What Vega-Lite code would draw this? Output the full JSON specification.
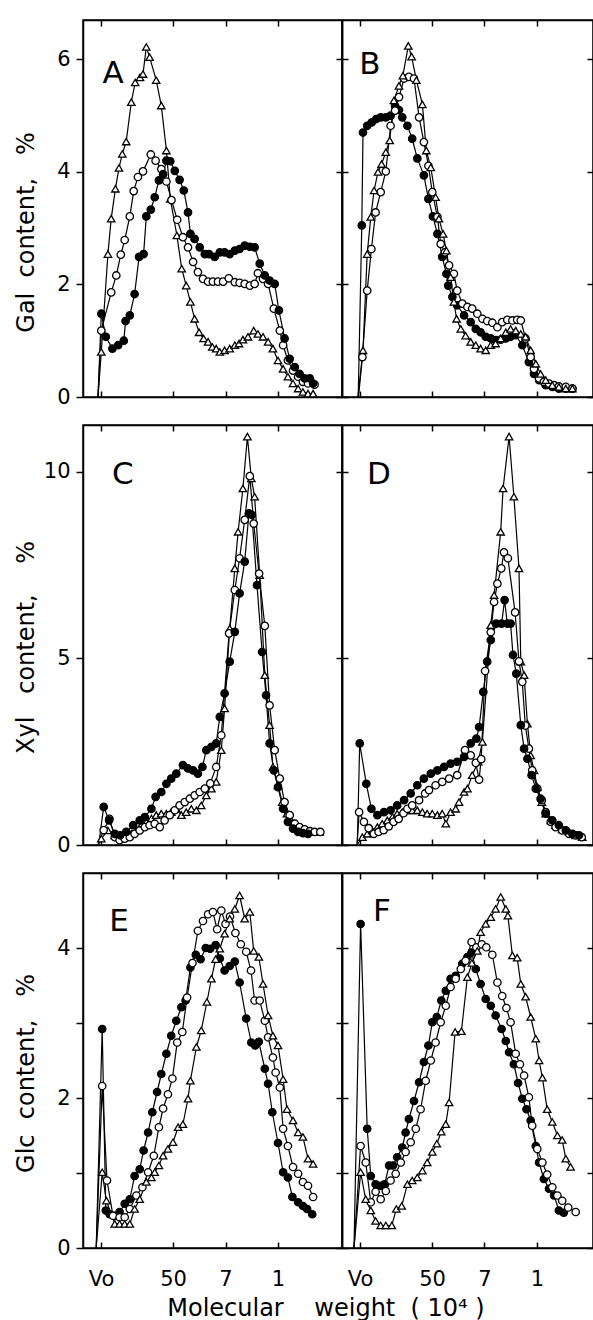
{
"$schema":"https://vega.github.io/schema/vega-lite/v6.json",
"background":"white",
"padding":{"left":13,"top":18,"right":0,"bottom":0},
"config":{
 "view":{"stroke":"black","strokeWidth":1.5},
 "axis":{"grid":false,"domainColor":"black","domainWidth":1.5,"tickColor":"black","tickWidth":1.5,"labelColor":"black","labelFont":"DejaVu Sans","labelFontSize":21,"titleFont":"DejaVu Sans","titleFontSize":24,"titleFontWeight":"normal","titleColor":"black","labelFlush":false,"labelOverlap":false},
 "line":{"color":"black","strokeWidth":1.2},
 "point":{"filled":true,"stroke":"black","strokeWidth":1.3,"opacity":1},
 "text":{"fontSize":31,"font":"DejaVu Sans","color":"black"}
},
"datasets":{
"letters":[{"p":"A","x":10,"y":5.74},{"p":"B","x":9.3,"y":5.9},{"p":"C","x":13.3,"y":9.9},{"p":"D","x":12.3,"y":9.9},{"p":"E","x":12,"y":4.35},{"p":"F","x":13.3,"y":4.48}],
"pts":[
{"p":"A","s":"t","x":5,"y":0},{"p":"A","s":"t","x":6.1,"y":0.8},{"p":"A","s":"t","x":8.3,"y":2.54},{"p":"A","s":"t","x":9.4,"y":3.17},{"p":"A","s":"t","x":10.8,"y":3.7},{"p":"A","s":"t","x":12,"y":4.07},{"p":"A","s":"t","x":13.1,"y":4.32},{"p":"A","s":"t","x":14.4,"y":4.54},{"p":"A","s":"t","x":16.1,"y":5.24},{"p":"A","s":"t","x":17.4,"y":5.59},{"p":"A","s":"t","x":19,"y":5.68},{"p":"A","s":"t","x":20,"y":5.74},{"p":"A","s":"t","x":21.1,"y":6.22},{"p":"A","s":"t","x":22.2,"y":6.04},{"p":"A","s":"t","x":24.4,"y":5.63},{"p":"A","s":"t","x":26.1,"y":5.18},{"p":"A","s":"t","x":27.8,"y":4.38},{"p":"A","s":"t","x":29.1,"y":3.52},{"p":"A","s":"t","x":31.3,"y":2.87},{"p":"A","s":"t","x":32.9,"y":2.28},{"p":"A","s":"t","x":34.4,"y":1.98},{"p":"A","s":"t","x":35.8,"y":1.69},{"p":"A","s":"t","x":37.2,"y":1.39},{"p":"A","s":"t","x":38.7,"y":1.15},{"p":"A","s":"t","x":40.2,"y":1.04},{"p":"A","s":"t","x":41.7,"y":0.98},{"p":"A","s":"t","x":43.1,"y":0.89},{"p":"A","s":"t","x":44.4,"y":0.86},{"p":"A","s":"t","x":45.6,"y":0.8},{"p":"A","s":"t","x":47.2,"y":0.83},{"p":"A","s":"t","x":48.9,"y":0.86},{"p":"A","s":"t","x":50.6,"y":0.92},{"p":"A","s":"t","x":52,"y":0.95},{"p":"A","s":"t","x":53.3,"y":1.02},{"p":"A","s":"t","x":55,"y":1.07},{"p":"A","s":"t","x":56.9,"y":1.18},{"p":"A","s":"t","x":58.3,"y":1.12},{"p":"A","s":"t","x":60,"y":1.07},{"p":"A","s":"t","x":61.7,"y":0.98},{"p":"A","s":"t","x":63.3,"y":0.86},{"p":"A","s":"t","x":65,"y":0.65},{"p":"A","s":"t","x":66.7,"y":0.5},{"p":"A","s":"t","x":68.3,"y":0.36},{"p":"A","s":"t","x":70,"y":0.24},{"p":"A","s":"t","x":71.7,"y":0.15},{"p":"A","s":"t","x":73.3,"y":0.09},{"p":"A","s":"t","x":75,"y":0.06},{"p":"A","s":"t","x":76.7,"y":0.06},
{"p":"A","s":"o","x":5,"y":0},{"p":"A","s":"o","x":6.1,"y":1.18},{"p":"A","s":"o","x":9.4,"y":1.86},{"p":"A","s":"o","x":11.1,"y":2.16},{"p":"A","s":"o","x":12.6,"y":2.53},{"p":"A","s":"o","x":13.9,"y":2.79},{"p":"A","s":"o","x":15.6,"y":3.21},{"p":"A","s":"o","x":16.9,"y":3.66},{"p":"A","s":"o","x":18.3,"y":3.91},{"p":"A","s":"o","x":20,"y":4.01},{"p":"A","s":"o","x":22.6,"y":4.31},{"p":"A","s":"o","x":24.2,"y":4.2},{"p":"A","s":"o","x":26.1,"y":4.05},{"p":"A","s":"o","x":27.8,"y":3.83},{"p":"A","s":"o","x":29.5,"y":3.5},{"p":"A","s":"o","x":31.4,"y":3.15},{"p":"A","s":"o","x":33.3,"y":2.84},{"p":"A","s":"o","x":35,"y":2.66},{"p":"A","s":"o","x":36.7,"y":2.4},{"p":"A","s":"o","x":38.3,"y":2.22},{"p":"A","s":"o","x":40,"y":2.1},{"p":"A","s":"o","x":41.7,"y":2.05},{"p":"A","s":"o","x":43.3,"y":2.05},{"p":"A","s":"o","x":45,"y":2.05},{"p":"A","s":"o","x":46.7,"y":2.05},{"p":"A","s":"o","x":48.6,"y":2.11},{"p":"A","s":"o","x":50.6,"y":2.04},{"p":"A","s":"o","x":52.2,"y":2.03},{"p":"A","s":"o","x":53.9,"y":2.01},{"p":"A","s":"o","x":55.6,"y":1.98},{"p":"A","s":"o","x":57.2,"y":2.01},{"p":"A","s":"o","x":58.3,"y":2.2},{"p":"A","s":"o","x":60,"y":2.1},{"p":"A","s":"o","x":61.7,"y":2.01},{"p":"A","s":"o","x":63.6,"y":1.57},{"p":"A","s":"o","x":65.6,"y":1.18},{"p":"A","s":"o","x":66.7,"y":0.92},{"p":"A","s":"o","x":68.3,"y":0.65},{"p":"A","s":"o","x":70,"y":0.47},{"p":"A","s":"o","x":71.7,"y":0.36},{"p":"A","s":"o","x":73.3,"y":0.27},{"p":"A","s":"o","x":75,"y":0.24},{"p":"A","s":"o","x":77.2,"y":0.22},
{"p":"A","s":"f","x":5,"y":0},{"p":"A","s":"f","x":6.1,"y":1.48},{"p":"A","s":"f","x":7.6,"y":1.07},{"p":"A","s":"f","x":9.8,"y":0.86},{"p":"A","s":"f","x":11.7,"y":0.92},{"p":"A","s":"f","x":13.6,"y":1.0},{"p":"A","s":"f","x":14.2,"y":1.35},{"p":"A","s":"f","x":15.6,"y":1.45},{"p":"A","s":"f","x":17.2,"y":1.83},{"p":"A","s":"f","x":18.7,"y":2.49},{"p":"A","s":"f","x":20.2,"y":2.54},{"p":"A","s":"f","x":21.1,"y":3.21},{"p":"A","s":"f","x":22.6,"y":3.33},{"p":"A","s":"f","x":23.9,"y":3.55},{"p":"A","s":"f","x":25.3,"y":3.85},{"p":"A","s":"f","x":26.7,"y":3.96},{"p":"A","s":"f","x":27.8,"y":4.2},{"p":"A","s":"f","x":29.1,"y":4.19},{"p":"A","s":"f","x":30.6,"y":4.02},{"p":"A","s":"f","x":32.2,"y":3.86},{"p":"A","s":"f","x":33.6,"y":3.67},{"p":"A","s":"f","x":35,"y":3.28},{"p":"A","s":"f","x":35.8,"y":2.9},{"p":"A","s":"f","x":37.2,"y":2.81},{"p":"A","s":"f","x":38.9,"y":2.66},{"p":"A","s":"f","x":40.6,"y":2.54},{"p":"A","s":"f","x":42,"y":2.54},{"p":"A","s":"f","x":43.9,"y":2.49},{"p":"A","s":"f","x":45.6,"y":2.57},{"p":"A","s":"f","x":47.2,"y":2.57},{"p":"A","s":"f","x":48.9,"y":2.54},{"p":"A","s":"f","x":50.6,"y":2.6},{"p":"A","s":"f","x":52.2,"y":2.63},{"p":"A","s":"f","x":53.9,"y":2.69},{"p":"A","s":"f","x":55.6,"y":2.67},{"p":"A","s":"f","x":57.2,"y":2.66},{"p":"A","s":"f","x":58.9,"y":2.37},{"p":"A","s":"f","x":60.6,"y":2.16},{"p":"A","s":"f","x":62.2,"y":2.07},{"p":"A","s":"f","x":63.9,"y":2.01},{"p":"A","s":"f","x":65.3,"y":1.54},{"p":"A","s":"f","x":67.2,"y":1.04},{"p":"A","s":"f","x":68.9,"y":0.68},{"p":"A","s":"f","x":70.6,"y":0.53},{"p":"A","s":"f","x":72.2,"y":0.41},{"p":"A","s":"f","x":73.9,"y":0.33},{"p":"A","s":"f","x":75.6,"y":0.33},{"p":"A","s":"f","x":76.7,"y":0.24},
{"p":"B","s":"f","x":5.4,"y":0},{"p":"B","s":"f","x":6.6,"y":3.05},{"p":"B","s":"f","x":7,"y":4.7},{"p":"B","s":"f","x":8.4,"y":4.82},{"p":"B","s":"f","x":9.9,"y":4.88},{"p":"B","s":"f","x":11.4,"y":4.94},{"p":"B","s":"f","x":12.9,"y":4.97},{"p":"B","s":"f","x":14.6,"y":4.97},{"p":"B","s":"f","x":16.2,"y":5.0},{"p":"B","s":"f","x":17.7,"y":5.17},{"p":"B","s":"f","x":19,"y":5.1},{"p":"B","s":"f","x":20.1,"y":4.97},{"p":"B","s":"f","x":21.8,"y":4.82},{"p":"B","s":"f","x":23.4,"y":4.59},{"p":"B","s":"f","x":25.1,"y":4.24},{"p":"B","s":"f","x":27.3,"y":3.94},{"p":"B","s":"f","x":28.8,"y":3.52},{"p":"B","s":"f","x":30.3,"y":3.21},{"p":"B","s":"f","x":31.8,"y":2.9},{"p":"B","s":"f","x":33.4,"y":2.49},{"p":"B","s":"f","x":34.8,"y":2.19},{"p":"B","s":"f","x":35.4,"y":1.98},{"p":"B","s":"f","x":36.8,"y":1.78},{"p":"B","s":"f","x":38.4,"y":1.63},{"p":"B","s":"f","x":40.7,"y":1.45},{"p":"B","s":"f","x":42.9,"y":1.33},{"p":"B","s":"f","x":44.6,"y":1.21},{"p":"B","s":"f","x":46.2,"y":1.15},{"p":"B","s":"f","x":47.9,"y":1.07},{"p":"B","s":"f","x":49.6,"y":1.04},{"p":"B","s":"f","x":51.2,"y":1.01},{"p":"B","s":"f","x":52.9,"y":1.02},{"p":"B","s":"f","x":54.6,"y":1.04},{"p":"B","s":"f","x":56.2,"y":1.07},{"p":"B","s":"f","x":57.9,"y":1.1},{"p":"B","s":"f","x":60.1,"y":0.92},{"p":"B","s":"f","x":62.3,"y":0.62},{"p":"B","s":"f","x":64,"y":0.41},{"p":"B","s":"f","x":65.7,"y":0.3},{"p":"B","s":"f","x":67.9,"y":0.21},{"p":"B","s":"f","x":70.1,"y":0.18},{"p":"B","s":"f","x":72.3,"y":0.15},{"p":"B","s":"f","x":74.6,"y":0.15},{"p":"B","s":"f","x":76.8,"y":0.15},
{"p":"B","s":"o","x":5.5,"y":0},{"p":"B","s":"o","x":6.8,"y":0.71},{"p":"B","s":"o","x":8.4,"y":1.89},{"p":"B","s":"o","x":9.8,"y":2.63},{"p":"B","s":"o","x":11.2,"y":3.28},{"p":"B","s":"o","x":12.9,"y":3.64},{"p":"B","s":"o","x":14.6,"y":4.01},{"p":"B","s":"o","x":16.2,"y":4.82},{"p":"B","s":"o","x":17.7,"y":5.09},{"p":"B","s":"o","x":19,"y":5.33},{"p":"B","s":"o","x":20.7,"y":5.66},{"p":"B","s":"o","x":22.3,"y":5.69},{"p":"B","s":"o","x":24,"y":5.66},{"p":"B","s":"o","x":25.7,"y":4.97},{"p":"B","s":"o","x":27.3,"y":4.53},{"p":"B","s":"o","x":28.8,"y":4.11},{"p":"B","s":"o","x":30.1,"y":3.64},{"p":"B","s":"o","x":31.8,"y":3.2},{"p":"B","s":"o","x":32.9,"y":2.72},{"p":"B","s":"o","x":34.3,"y":2.57},{"p":"B","s":"o","x":35.7,"y":2.34},{"p":"B","s":"o","x":37.3,"y":2.19},{"p":"B","s":"o","x":38.4,"y":1.89},{"p":"B","s":"o","x":40.1,"y":1.66},{"p":"B","s":"o","x":41.8,"y":1.6},{"p":"B","s":"o","x":43.4,"y":1.57},{"p":"B","s":"o","x":45.1,"y":1.48},{"p":"B","s":"o","x":46.8,"y":1.39},{"p":"B","s":"o","x":48.4,"y":1.35},{"p":"B","s":"o","x":50.1,"y":1.32},{"p":"B","s":"o","x":51.8,"y":1.24},{"p":"B","s":"o","x":53.4,"y":1.33},{"p":"B","s":"o","x":55.1,"y":1.37},{"p":"B","s":"o","x":56.8,"y":1.36},{"p":"B","s":"o","x":58.4,"y":1.37},{"p":"B","s":"o","x":59.6,"y":1.36},{"p":"B","s":"o","x":61.2,"y":1.04},{"p":"B","s":"o","x":62.9,"y":0.71},{"p":"B","s":"o","x":64,"y":0.5},{"p":"B","s":"o","x":65.7,"y":0.33},{"p":"B","s":"o","x":67.3,"y":0.27},{"p":"B","s":"o","x":69,"y":0.24},{"p":"B","s":"o","x":70.7,"y":0.21},{"p":"B","s":"o","x":72.3,"y":0.19},{"p":"B","s":"o","x":74.6,"y":0.18},{"p":"B","s":"o","x":76.8,"y":0.15},
{"p":"B","s":"t","x":5.3,"y":0},{"p":"B","s":"t","x":7,"y":0.83},{"p":"B","s":"t","x":8.4,"y":2.54},{"p":"B","s":"t","x":9.6,"y":3.2},{"p":"B","s":"t","x":10.7,"y":3.67},{"p":"B","s":"t","x":12,"y":4.0},{"p":"B","s":"t","x":13.2,"y":4.14},{"p":"B","s":"t","x":14.6,"y":4.35},{"p":"B","s":"t","x":15.9,"y":4.56},{"p":"B","s":"t","x":17.3,"y":5.27},{"p":"B","s":"t","x":19,"y":5.53},{"p":"B","s":"t","x":20.3,"y":5.71},{"p":"B","s":"t","x":22.1,"y":6.24},{"p":"B","s":"t","x":23.2,"y":6.05},{"p":"B","s":"t","x":24.8,"y":5.63},{"p":"B","s":"t","x":26.8,"y":5.2},{"p":"B","s":"t","x":28.1,"y":4.38},{"p":"B","s":"t","x":29.6,"y":4.08},{"p":"B","s":"t","x":31.2,"y":3.55},{"p":"B","s":"t","x":32.3,"y":3.17},{"p":"B","s":"t","x":33.7,"y":2.9},{"p":"B","s":"t","x":34.8,"y":2.6},{"p":"B","s":"t","x":36.2,"y":2.13},{"p":"B","s":"t","x":37.3,"y":1.69},{"p":"B","s":"t","x":38.2,"y":1.39},{"p":"B","s":"t","x":39.6,"y":1.21},{"p":"B","s":"t","x":41.2,"y":1.09},{"p":"B","s":"t","x":42.9,"y":0.98},{"p":"B","s":"t","x":44.6,"y":0.92},{"p":"B","s":"t","x":46.2,"y":0.86},{"p":"B","s":"t","x":47.9,"y":0.83},{"p":"B","s":"t","x":49.6,"y":0.92},{"p":"B","s":"t","x":51.2,"y":0.95},{"p":"B","s":"t","x":52.9,"y":1.04},{"p":"B","s":"t","x":54.6,"y":1.15},{"p":"B","s":"t","x":56.2,"y":1.21},{"p":"B","s":"t","x":57.9,"y":1.18},{"p":"B","s":"t","x":59.6,"y":1.12},{"p":"B","s":"t","x":61.2,"y":1.07},{"p":"B","s":"t","x":62.9,"y":0.83},{"p":"B","s":"t","x":64.6,"y":0.59},{"p":"B","s":"t","x":66.2,"y":0.41},{"p":"B","s":"t","x":67.9,"y":0.3},{"p":"B","s":"t","x":70.1,"y":0.21},{"p":"B","s":"t","x":72.3,"y":0.18},{"p":"B","s":"t","x":74.6,"y":0.15},{"p":"B","s":"t","x":76.8,"y":0.15},
{"p":"C","s":"t","x":5,"y":0},{"p":"C","s":"t","x":6.1,"y":0.17},{"p":"C","s":"t","x":8.3,"y":0.39},{"p":"C","s":"t","x":10.6,"y":0.26},{"p":"C","s":"t","x":12.8,"y":0.21},{"p":"C","s":"t","x":14.4,"y":0.26},{"p":"C","s":"t","x":16.1,"y":0.3},{"p":"C","s":"t","x":17.8,"y":0.39},{"p":"C","s":"t","x":19.4,"y":0.53},{"p":"C","s":"t","x":21.1,"y":0.62},{"p":"C","s":"t","x":22.8,"y":0.71},{"p":"C","s":"t","x":24.4,"y":0.8},{"p":"C","s":"t","x":26.1,"y":0.84},{"p":"C","s":"t","x":27.8,"y":0.84},{"p":"C","s":"t","x":29.4,"y":0.88},{"p":"C","s":"t","x":31.1,"y":0.97},{"p":"C","s":"t","x":32.8,"y":0.8},{"p":"C","s":"t","x":34.4,"y":0.88},{"p":"C","s":"t","x":36.1,"y":0.97},{"p":"C","s":"t","x":37.8,"y":0.93},{"p":"C","s":"t","x":39.4,"y":1.06},{"p":"C","s":"t","x":41.1,"y":1.33},{"p":"C","s":"t","x":42.8,"y":1.51},{"p":"C","s":"t","x":44.4,"y":1.69},{"p":"C","s":"t","x":46.1,"y":2.54},{"p":"C","s":"t","x":47.2,"y":3.66},{"p":"C","s":"t","x":48.9,"y":5.8},{"p":"C","s":"t","x":50.6,"y":7.41},{"p":"C","s":"t","x":51.7,"y":8.39},{"p":"C","s":"t","x":53.3,"y":9.55},{"p":"C","s":"t","x":54.8,"y":10.94},{"p":"C","s":"t","x":56.1,"y":9.82},{"p":"C","s":"t","x":57.2,"y":9.33},{"p":"C","s":"t","x":58.9,"y":7.23},{"p":"C","s":"t","x":60.6,"y":4.55},{"p":"C","s":"t","x":62.2,"y":3.21},{"p":"C","s":"t","x":63.3,"y":2.09},{"p":"C","s":"t","x":65,"y":1.6},{"p":"C","s":"t","x":66.4,"y":1.15},{"p":"C","s":"t","x":68,"y":0.84},{"p":"C","s":"t","x":69.4,"y":0.66},{"p":"C","s":"t","x":71.1,"y":0.48},{"p":"C","s":"t","x":72.8,"y":0.39},{"p":"C","s":"t","x":74.4,"y":0.35},{"p":"C","s":"t","x":76.7,"y":0.35},{"p":"C","s":"t","x":78.9,"y":0.35},
{"p":"C","s":"o","x":5,"y":0},{"p":"C","s":"o","x":6.9,"y":0.4},{"p":"C","s":"o","x":8.8,"y":0.7},{"p":"C","s":"o","x":10.6,"y":0.21},{"p":"C","s":"o","x":12.2,"y":0.13},{"p":"C","s":"o","x":13.9,"y":0.17},{"p":"C","s":"o","x":15.6,"y":0.21},{"p":"C","s":"o","x":17.2,"y":0.3},{"p":"C","s":"o","x":18.9,"y":0.39},{"p":"C","s":"o","x":20.6,"y":0.48},{"p":"C","s":"o","x":22.2,"y":0.53},{"p":"C","s":"o","x":23.9,"y":0.57},{"p":"C","s":"o","x":25.6,"y":0.48},{"p":"C","s":"o","x":27.2,"y":0.66},{"p":"C","s":"o","x":28.9,"y":0.8},{"p":"C","s":"o","x":30.6,"y":0.93},{"p":"C","s":"o","x":32.2,"y":1.06},{"p":"C","s":"o","x":33.9,"y":1.15},{"p":"C","s":"o","x":35.6,"y":1.24},{"p":"C","s":"o","x":37.2,"y":1.33},{"p":"C","s":"o","x":38.9,"y":1.42},{"p":"C","s":"o","x":40.6,"y":1.51},{"p":"C","s":"o","x":42.4,"y":1.65},{"p":"C","s":"o","x":44.4,"y":2.09},{"p":"C","s":"o","x":46.1,"y":2.94},{"p":"C","s":"o","x":48.7,"y":5.67},{"p":"C","s":"o","x":50.6,"y":6.83},{"p":"C","s":"o","x":52.2,"y":7.68},{"p":"C","s":"o","x":53.9,"y":8.71},{"p":"C","s":"o","x":55.6,"y":9.88},{"p":"C","s":"o","x":56.9,"y":8.61},{"p":"C","s":"o","x":58.7,"y":7.27},{"p":"C","s":"o","x":60.6,"y":5.87},{"p":"C","s":"o","x":62.2,"y":3.74},{"p":"C","s":"o","x":63.9,"y":2.54},{"p":"C","s":"o","x":65.6,"y":1.78},{"p":"C","s":"o","x":67.2,"y":1.15},{"p":"C","s":"o","x":68.9,"y":0.8},{"p":"C","s":"o","x":70.6,"y":0.57},{"p":"C","s":"o","x":72.2,"y":0.48},{"p":"C","s":"o","x":73.9,"y":0.42},{"p":"C","s":"o","x":75.6,"y":0.37},{"p":"C","s":"o","x":77.2,"y":0.35},{"p":"C","s":"o","x":79.1,"y":0.35},
{"p":"C","s":"f","x":5.2,"y":0},{"p":"C","s":"f","x":6.9,"y":1.02},{"p":"C","s":"f","x":8.7,"y":0.66},{"p":"C","s":"f","x":10.6,"y":0.3},{"p":"C","s":"f","x":12.4,"y":0.26},{"p":"C","s":"f","x":14.4,"y":0.35},{"p":"C","s":"f","x":16.7,"y":0.53},{"p":"C","s":"f","x":18.9,"y":0.66},{"p":"C","s":"f","x":20.6,"y":0.75},{"p":"C","s":"f","x":22.8,"y":0.97},{"p":"C","s":"f","x":24.2,"y":1.29},{"p":"C","s":"f","x":26.1,"y":1.42},{"p":"C","s":"f","x":27.8,"y":1.64},{"p":"C","s":"f","x":29.4,"y":1.78},{"p":"C","s":"f","x":31.1,"y":1.91},{"p":"C","s":"f","x":33.3,"y":2.14},{"p":"C","s":"f","x":35,"y":2.05},{"p":"C","s":"f","x":36.7,"y":2.0},{"p":"C","s":"f","x":38.3,"y":1.91},{"p":"C","s":"f","x":39.8,"y":2.09},{"p":"C","s":"f","x":41.1,"y":2.54},{"p":"C","s":"f","x":42.8,"y":2.63},{"p":"C","s":"f","x":44.4,"y":2.72},{"p":"C","s":"f","x":45.6,"y":3.43},{"p":"C","s":"f","x":47.2,"y":4.06},{"p":"C","s":"f","x":48.9,"y":4.91},{"p":"C","s":"f","x":50.6,"y":5.71},{"p":"C","s":"f","x":52.2,"y":6.74},{"p":"C","s":"f","x":53.9,"y":7.59},{"p":"C","s":"f","x":55.3,"y":8.88},{"p":"C","s":"f","x":56.3,"y":8.84},{"p":"C","s":"f","x":58,"y":6.96},{"p":"C","s":"f","x":59.7,"y":5.17},{"p":"C","s":"f","x":61,"y":4.01},{"p":"C","s":"f","x":62.2,"y":2.72},{"p":"C","s":"f","x":63.6,"y":2.0},{"p":"C","s":"f","x":65,"y":1.55},{"p":"C","s":"f","x":66.7,"y":0.97},{"p":"C","s":"f","x":68.3,"y":0.62},{"p":"C","s":"f","x":70,"y":0.44},{"p":"C","s":"f","x":71.7,"y":0.35},{"p":"C","s":"f","x":73.3,"y":0.32},{"p":"C","s":"f","x":75,"y":0.3},
{"p":"D","s":"t","x":5,"y":0},{"p":"D","s":"t","x":6.8,"y":0.21},{"p":"D","s":"t","x":8.4,"y":0.3},{"p":"D","s":"t","x":10.1,"y":0.39},{"p":"D","s":"t","x":11.8,"y":0.48},{"p":"D","s":"t","x":13.4,"y":0.57},{"p":"D","s":"t","x":15.1,"y":0.66},{"p":"D","s":"t","x":16.8,"y":0.75},{"p":"D","s":"t","x":18.4,"y":0.84},{"p":"D","s":"t","x":20.1,"y":0.88},{"p":"D","s":"t","x":21.8,"y":0.93},{"p":"D","s":"t","x":23.4,"y":0.93},{"p":"D","s":"t","x":25.1,"y":0.93},{"p":"D","s":"t","x":26.8,"y":0.88},{"p":"D","s":"t","x":28.4,"y":0.84},{"p":"D","s":"t","x":30.1,"y":0.84},{"p":"D","s":"t","x":31.8,"y":0.8},{"p":"D","s":"t","x":33.4,"y":0.84},{"p":"D","s":"t","x":34.6,"y":0.57},{"p":"D","s":"t","x":36.2,"y":0.88},{"p":"D","s":"t","x":37.9,"y":0.97},{"p":"D","s":"t","x":39,"y":1.15},{"p":"D","s":"t","x":40.7,"y":1.42},{"p":"D","s":"t","x":41.8,"y":1.51},{"p":"D","s":"t","x":43.4,"y":1.87},{"p":"D","s":"t","x":45.4,"y":2.23},{"p":"D","s":"t","x":46.8,"y":2.76},{"p":"D","s":"t","x":49.6,"y":5.89},{"p":"D","s":"t","x":50.7,"y":6.69},{"p":"D","s":"t","x":52.9,"y":8.39},{"p":"D","s":"t","x":53.7,"y":9.55},{"p":"D","s":"t","x":55.7,"y":10.94},{"p":"D","s":"t","x":57.3,"y":9.33},{"p":"D","s":"t","x":59,"y":7.41},{"p":"D","s":"t","x":59.6,"y":4.91},{"p":"D","s":"t","x":60.7,"y":4.55},{"p":"D","s":"t","x":61.8,"y":3.25},{"p":"D","s":"t","x":62.9,"y":2.4},{"p":"D","s":"t","x":64,"y":2.0},{"p":"D","s":"t","x":65.1,"y":1.55},{"p":"D","s":"t","x":66.6,"y":1.15},{"p":"D","s":"t","x":67.9,"y":0.84},{"p":"D","s":"t","x":69.6,"y":0.66},{"p":"D","s":"t","x":71.2,"y":0.53},{"p":"D","s":"t","x":73.4,"y":0.42},{"p":"D","s":"t","x":75.7,"y":0.35},{"p":"D","s":"t","x":77.9,"y":0.26},{"p":"D","s":"t","x":80.1,"y":0.21},
{"p":"D","s":"o","x":5,"y":0},{"p":"D","s":"o","x":5.7,"y":0.88},{"p":"D","s":"o","x":7.3,"y":0.62},{"p":"D","s":"o","x":8.9,"y":0.45},{"p":"D","s":"o","x":10.6,"y":0.3},{"p":"D","s":"o","x":12.2,"y":0.35},{"p":"D","s":"o","x":13.9,"y":0.4},{"p":"D","s":"o","x":15.6,"y":0.5},{"p":"D","s":"o","x":17.2,"y":0.62},{"p":"D","s":"o","x":18.9,"y":0.7},{"p":"D","s":"o","x":20.5,"y":0.85},{"p":"D","s":"o","x":21.8,"y":0.97},{"p":"D","s":"o","x":23.4,"y":1.06},{"p":"D","s":"o","x":25.7,"y":1.2},{"p":"D","s":"o","x":27.7,"y":1.38},{"p":"D","s":"o","x":29,"y":1.47},{"p":"D","s":"o","x":31.2,"y":1.6},{"p":"D","s":"o","x":33.4,"y":1.69},{"p":"D","s":"o","x":35.7,"y":1.78},{"p":"D","s":"o","x":38.4,"y":1.87},{"p":"D","s":"o","x":41,"y":2.54},{"p":"D","s":"o","x":42.9,"y":2.4},{"p":"D","s":"o","x":44.6,"y":2.2},{"p":"D","s":"o","x":45.7,"y":1.75},{"p":"D","s":"o","x":46.4,"y":2.3},{"p":"D","s":"o","x":47.7,"y":4.66},{"p":"D","s":"o","x":49.6,"y":5.7},{"p":"D","s":"o","x":50.7,"y":6.51},{"p":"D","s":"o","x":51.8,"y":7.0},{"p":"D","s":"o","x":53.1,"y":7.41},{"p":"D","s":"o","x":54,"y":7.84},{"p":"D","s":"o","x":55.3,"y":7.68},{"p":"D","s":"o","x":57.7,"y":6.23},{"p":"D","s":"o","x":59,"y":4.92},{"p":"D","s":"o","x":60.1,"y":4.37},{"p":"D","s":"o","x":61.1,"y":3.2},{"p":"D","s":"o","x":62.3,"y":2.58},{"p":"D","s":"o","x":63.4,"y":2.0},{"p":"D","s":"o","x":65.1,"y":1.51},{"p":"D","s":"o","x":66.6,"y":1.2},{"p":"D","s":"o","x":67.9,"y":0.88},{"p":"D","s":"o","x":69.6,"y":0.62},{"p":"D","s":"o","x":71.2,"y":0.48},{"p":"D","s":"o","x":73.4,"y":0.39},{"p":"D","s":"o","x":75.7,"y":0.3},{"p":"D","s":"o","x":77.9,"y":0.26},{"p":"D","s":"o","x":79.9,"y":0.21},
{"p":"D","s":"f","x":5.1,"y":0},{"p":"D","s":"f","x":5.9,"y":2.72},{"p":"D","s":"f","x":8.1,"y":1.64},{"p":"D","s":"f","x":9.8,"y":0.97},{"p":"D","s":"f","x":11.8,"y":0.8},{"p":"D","s":"f","x":14,"y":0.88},{"p":"D","s":"f","x":16.2,"y":0.93},{"p":"D","s":"f","x":18.4,"y":1.06},{"p":"D","s":"f","x":20.7,"y":1.2},{"p":"D","s":"f","x":22.9,"y":1.38},{"p":"D","s":"f","x":25.1,"y":1.6},{"p":"D","s":"f","x":27.3,"y":1.78},{"p":"D","s":"f","x":29.6,"y":1.91},{"p":"D","s":"f","x":31.8,"y":2.0},{"p":"D","s":"f","x":34,"y":2.09},{"p":"D","s":"f","x":36.2,"y":2.18},{"p":"D","s":"f","x":38.4,"y":2.23},{"p":"D","s":"f","x":40.7,"y":2.36},{"p":"D","s":"f","x":42.9,"y":2.72},{"p":"D","s":"f","x":44.8,"y":2.85},{"p":"D","s":"f","x":45.7,"y":3.16},{"p":"D","s":"f","x":47.1,"y":4.1},{"p":"D","s":"f","x":48.4,"y":4.91},{"p":"D","s":"f","x":49.6,"y":5.49},{"p":"D","s":"f","x":51.4,"y":5.93},{"p":"D","s":"f","x":53.2,"y":5.93},{"p":"D","s":"f","x":54.2,"y":6.56},{"p":"D","s":"f","x":55.1,"y":5.93},{"p":"D","s":"f","x":56.2,"y":5.93},{"p":"D","s":"f","x":57,"y":5.09},{"p":"D","s":"f","x":58.1,"y":4.59},{"p":"D","s":"f","x":59.6,"y":3.21},{"p":"D","s":"f","x":60.7,"y":2.58},{"p":"D","s":"f","x":61.8,"y":2.31},{"p":"D","s":"f","x":63.2,"y":1.87},{"p":"D","s":"f","x":64.6,"y":1.51},{"p":"D","s":"f","x":66.2,"y":1.24},{"p":"D","s":"f","x":67.9,"y":0.84},{"p":"D","s":"f","x":70.1,"y":0.66},{"p":"D","s":"f","x":72.3,"y":0.53},{"p":"D","s":"f","x":74.6,"y":0.39},{"p":"D","s":"f","x":76.8,"y":0.3},{"p":"D","s":"f","x":79,"y":0.26},
{"p":"E","s":"f","x":4.4,"y":0},{"p":"E","s":"f","x":6.4,"y":2.92},{"p":"E","s":"f","x":7.6,"y":0.5},{"p":"E","s":"f","x":8.9,"y":0.45},{"p":"E","s":"f","x":10.6,"y":0.43},{"p":"E","s":"f","x":12.2,"y":0.48},{"p":"E","s":"f","x":13.9,"y":0.59},{"p":"E","s":"f","x":15.6,"y":0.65},{"p":"E","s":"f","x":17.2,"y":0.96},{"p":"E","s":"f","x":18.9,"y":1.05},{"p":"E","s":"f","x":20.2,"y":1.3},{"p":"E","s":"f","x":21.7,"y":1.54},{"p":"E","s":"f","x":23.1,"y":1.81},{"p":"E","s":"f","x":24.7,"y":2.08},{"p":"E","s":"f","x":26.1,"y":2.32},{"p":"E","s":"f","x":27.8,"y":2.59},{"p":"E","s":"f","x":29.4,"y":2.83},{"p":"E","s":"f","x":31.1,"y":3.03},{"p":"E","s":"f","x":32.8,"y":3.21},{"p":"E","s":"f","x":34.2,"y":3.3},{"p":"E","s":"f","x":35.8,"y":3.74},{"p":"E","s":"f","x":37.6,"y":3.91},{"p":"E","s":"f","x":39.2,"y":3.85},{"p":"E","s":"f","x":40.9,"y":4.0},{"p":"E","s":"f","x":42.4,"y":3.99},{"p":"E","s":"f","x":44.2,"y":4.04},{"p":"E","s":"f","x":45.6,"y":3.86},{"p":"E","s":"f","x":47.2,"y":3.7},{"p":"E","s":"f","x":48.9,"y":3.76},{"p":"E","s":"f","x":50.6,"y":3.82},{"p":"E","s":"f","x":52.2,"y":3.54},{"p":"E","s":"f","x":54.4,"y":3.06},{"p":"E","s":"f","x":56.1,"y":2.74},{"p":"E","s":"f","x":57.4,"y":2.7},{"p":"E","s":"f","x":58.6,"y":2.75},{"p":"E","s":"f","x":60.6,"y":2.39},{"p":"E","s":"f","x":61.7,"y":2.19},{"p":"E","s":"f","x":63.1,"y":1.81},{"p":"E","s":"f","x":65,"y":1.4},{"p":"E","s":"f","x":66.7,"y":1.01},{"p":"E","s":"f","x":68.3,"y":0.94},{"p":"E","s":"f","x":69.8,"y":0.68},{"p":"E","s":"f","x":71.7,"y":0.61},{"p":"E","s":"f","x":73.3,"y":0.56},{"p":"E","s":"f","x":74.7,"y":0.52},{"p":"E","s":"f","x":76.4,"y":0.45},
{"p":"E","s":"o","x":4.4,"y":0},{"p":"E","s":"o","x":6.4,"y":2.16},{"p":"E","s":"o","x":8,"y":0.9},{"p":"E","s":"o","x":10,"y":0.43},{"p":"E","s":"o","x":12.2,"y":0.41},{"p":"E","s":"o","x":13.9,"y":0.41},{"p":"E","s":"o","x":15.6,"y":0.52},{"p":"E","s":"o","x":17.8,"y":0.7},{"p":"E","s":"o","x":19.8,"y":0.81},{"p":"E","s":"o","x":21.7,"y":1.01},{"p":"E","s":"o","x":23.6,"y":1.23},{"p":"E","s":"o","x":25.3,"y":1.61},{"p":"E","s":"o","x":26.7,"y":1.86},{"p":"E","s":"o","x":28.3,"y":2.05},{"p":"E","s":"o","x":29.8,"y":2.26},{"p":"E","s":"o","x":31.4,"y":2.74},{"p":"E","s":"o","x":33.1,"y":2.88},{"p":"E","s":"o","x":34.7,"y":3.34},{"p":"E","s":"o","x":36.5,"y":3.8},{"p":"E","s":"o","x":38.3,"y":4.23},{"p":"E","s":"o","x":40,"y":4.36},{"p":"E","s":"o","x":41.7,"y":4.45},{"p":"E","s":"o","x":43.3,"y":4.48},{"p":"E","s":"o","x":44.7,"y":4.25},{"p":"E","s":"o","x":46.1,"y":4.5},{"p":"E","s":"o","x":47.5,"y":4.32},{"p":"E","s":"o","x":49,"y":4.42},{"p":"E","s":"o","x":50.8,"y":4.2},{"p":"E","s":"o","x":52.6,"y":4.05},{"p":"E","s":"o","x":54.4,"y":3.95},{"p":"E","s":"o","x":56,"y":3.7},{"p":"E","s":"o","x":57.2,"y":3.3},{"p":"E","s":"o","x":58.9,"y":3.3},{"p":"E","s":"o","x":60.6,"y":3.03},{"p":"E","s":"o","x":61.7,"y":2.81},{"p":"E","s":"o","x":63.3,"y":2.54},{"p":"E","s":"o","x":64.2,"y":2.34},{"p":"E","s":"o","x":65.6,"y":2.14},{"p":"E","s":"o","x":66.7,"y":1.59},{"p":"E","s":"o","x":68.3,"y":1.36},{"p":"E","s":"o","x":70,"y":1.08},{"p":"E","s":"o","x":71.7,"y":0.99},{"p":"E","s":"o","x":73.3,"y":0.88},{"p":"E","s":"o","x":75,"y":0.83},{"p":"E","s":"o","x":76.7,"y":0.68},
{"p":"E","s":"t","x":4.4,"y":0},{"p":"E","s":"t","x":6.4,"y":1.01},{"p":"E","s":"t","x":7.8,"y":0.63},{"p":"E","s":"t","x":10.6,"y":0.32},{"p":"E","s":"t","x":12.2,"y":0.32},{"p":"E","s":"t","x":13.9,"y":0.32},{"p":"E","s":"t","x":15.6,"y":0.32},{"p":"E","s":"t","x":17.2,"y":0.52},{"p":"E","s":"t","x":18.9,"y":0.65},{"p":"E","s":"t","x":21.1,"y":0.88},{"p":"E","s":"t","x":22.8,"y":0.94},{"p":"E","s":"t","x":23.9,"y":1.01},{"p":"E","s":"t","x":25.3,"y":1.1},{"p":"E","s":"t","x":26.7,"y":1.23},{"p":"E","s":"t","x":28.3,"y":1.32},{"p":"E","s":"t","x":30,"y":1.41},{"p":"E","s":"t","x":31.7,"y":1.61},{"p":"E","s":"t","x":33.3,"y":1.65},{"p":"E","s":"t","x":35,"y":1.99},{"p":"E","s":"t","x":35.8,"y":2.23},{"p":"E","s":"t","x":37.8,"y":2.68},{"p":"E","s":"t","x":39.4,"y":2.9},{"p":"E","s":"t","x":41.3,"y":3.28},{"p":"E","s":"t","x":42.8,"y":3.59},{"p":"E","s":"t","x":44.2,"y":3.85},{"p":"E","s":"t","x":45.6,"y":3.99},{"p":"E","s":"t","x":47.2,"y":4.19},{"p":"E","s":"t","x":48.9,"y":4.39},{"p":"E","s":"t","x":50.6,"y":4.52},{"p":"E","s":"t","x":52.2,"y":4.7},{"p":"E","s":"t","x":53.9,"y":4.39},{"p":"E","s":"t","x":55.6,"y":4.48},{"p":"E","s":"t","x":56.9,"y":3.96},{"p":"E","s":"t","x":58.6,"y":3.88},{"p":"E","s":"t","x":60,"y":3.52},{"p":"E","s":"t","x":61.7,"y":3.1},{"p":"E","s":"t","x":63.3,"y":2.83},{"p":"E","s":"t","x":65,"y":2.7},{"p":"E","s":"t","x":66.7,"y":2.25},{"p":"E","s":"t","x":68,"y":1.85},{"p":"E","s":"t","x":70,"y":1.7},{"p":"E","s":"t","x":71.7,"y":1.54},{"p":"E","s":"t","x":73.3,"y":1.48},{"p":"E","s":"t","x":75,"y":1.19},{"p":"E","s":"t","x":76.7,"y":1.12},
{"p":"F","s":"f","x":4,"y":0},{"p":"F","s":"f","x":6.2,"y":4.32},{"p":"F","s":"f","x":8.4,"y":1.59},{"p":"F","s":"f","x":9.6,"y":0.96},{"p":"F","s":"f","x":11.2,"y":0.85},{"p":"F","s":"f","x":12.9,"y":0.83},{"p":"F","s":"f","x":14.2,"y":0.85},{"p":"F","s":"f","x":15.7,"y":1.1},{"p":"F","s":"f","x":17,"y":1.1},{"p":"F","s":"f","x":18.4,"y":1.21},{"p":"F","s":"f","x":20.1,"y":1.34},{"p":"F","s":"f","x":21.2,"y":1.54},{"p":"F","s":"f","x":22.3,"y":1.72},{"p":"F","s":"f","x":24,"y":1.96},{"p":"F","s":"f","x":25.7,"y":2.21},{"p":"F","s":"f","x":27.3,"y":2.48},{"p":"F","s":"f","x":28.8,"y":2.7},{"p":"F","s":"f","x":30.1,"y":3.01},{"p":"F","s":"f","x":31.6,"y":3.08},{"p":"F","s":"f","x":33.1,"y":3.3},{"p":"F","s":"f","x":34.6,"y":3.43},{"p":"F","s":"f","x":36.2,"y":3.59},{"p":"F","s":"f","x":37.9,"y":3.63},{"p":"F","s":"f","x":40.1,"y":3.79},{"p":"F","s":"f","x":41.8,"y":3.88},{"p":"F","s":"f","x":43.2,"y":3.94},{"p":"F","s":"f","x":44.6,"y":3.72},{"p":"F","s":"f","x":46.2,"y":3.52},{"p":"F","s":"f","x":47.9,"y":3.32},{"p":"F","s":"f","x":49.6,"y":3.23},{"p":"F","s":"f","x":51.2,"y":3.1},{"p":"F","s":"f","x":53.2,"y":2.92},{"p":"F","s":"f","x":54.6,"y":2.76},{"p":"F","s":"f","x":55.7,"y":2.61},{"p":"F","s":"f","x":57.3,"y":2.45},{"p":"F","s":"f","x":58.7,"y":2.2},{"p":"F","s":"f","x":60.1,"y":1.99},{"p":"F","s":"f","x":61.5,"y":1.85},{"p":"F","s":"f","x":62.9,"y":1.7},{"p":"F","s":"f","x":64.6,"y":1.36},{"p":"F","s":"f","x":65.7,"y":1.14},{"p":"F","s":"f","x":67.3,"y":0.92},{"p":"F","s":"f","x":69,"y":0.79},{"p":"F","s":"f","x":70.7,"y":0.7},{"p":"F","s":"f","x":72.3,"y":0.5},{"p":"F","s":"f","x":73.9,"y":0.47},
{"p":"F","s":"o","x":4,"y":0},{"p":"F","s":"o","x":6.2,"y":1.36},{"p":"F","s":"o","x":7.9,"y":1.14},{"p":"F","s":"o","x":9.6,"y":0.61},{"p":"F","s":"o","x":11.2,"y":0.75},{"p":"F","s":"o","x":12.9,"y":0.65},{"p":"F","s":"o","x":14.6,"y":0.76},{"p":"F","s":"o","x":16.2,"y":0.9},{"p":"F","s":"o","x":17.9,"y":0.99},{"p":"F","s":"o","x":19.6,"y":1.14},{"p":"F","s":"o","x":21.2,"y":1.28},{"p":"F","s":"o","x":22.9,"y":1.41},{"p":"F","s":"o","x":24.6,"y":1.59},{"p":"F","s":"o","x":26.2,"y":1.85},{"p":"F","s":"o","x":27.9,"y":2.23},{"p":"F","s":"o","x":29.6,"y":2.5},{"p":"F","s":"o","x":31.2,"y":2.74},{"p":"F","s":"o","x":32.9,"y":3.01},{"p":"F","s":"o","x":34.6,"y":3.23},{"p":"F","s":"o","x":36.2,"y":3.48},{"p":"F","s":"o","x":37.9,"y":3.59},{"p":"F","s":"o","x":39.6,"y":3.72},{"p":"F","s":"o","x":41.2,"y":3.83},{"p":"F","s":"o","x":43.2,"y":4.08},{"p":"F","s":"o","x":44.8,"y":4.01},{"p":"F","s":"o","x":46.6,"y":4.05},{"p":"F","s":"o","x":48.1,"y":4.01},{"p":"F","s":"o","x":50.1,"y":3.91},{"p":"F","s":"o","x":51.8,"y":3.54},{"p":"F","s":"o","x":53.4,"y":3.36},{"p":"F","s":"o","x":54.8,"y":3.2},{"p":"F","s":"o","x":56.2,"y":3.01},{"p":"F","s":"o","x":57.9,"y":2.59},{"p":"F","s":"o","x":59.3,"y":2.45},{"p":"F","s":"o","x":60.7,"y":2.3},{"p":"F","s":"o","x":62.3,"y":2.01},{"p":"F","s":"o","x":63.4,"y":1.63},{"p":"F","s":"o","x":65.1,"y":1.32},{"p":"F","s":"o","x":66.8,"y":1.14},{"p":"F","s":"o","x":68.4,"y":0.98},{"p":"F","s":"o","x":70.1,"y":0.81},{"p":"F","s":"o","x":71.8,"y":0.7},{"p":"F","s":"o","x":73.4,"y":0.63},{"p":"F","s":"o","x":75.4,"y":0.54},{"p":"F","s":"o","x":77.9,"y":0.48},
{"p":"F","s":"t","x":4,"y":0},{"p":"F","s":"t","x":6.2,"y":1.01},{"p":"F","s":"t","x":7.9,"y":0.65},{"p":"F","s":"t","x":9.6,"y":0.5},{"p":"F","s":"t","x":11.2,"y":0.36},{"p":"F","s":"t","x":12.9,"y":0.3},{"p":"F","s":"t","x":14.6,"y":0.3},{"p":"F","s":"t","x":16.6,"y":0.3},{"p":"F","s":"t","x":18.1,"y":0.52},{"p":"F","s":"t","x":19.9,"y":0.56},{"p":"F","s":"t","x":21.8,"y":0.85},{"p":"F","s":"t","x":23.4,"y":0.9},{"p":"F","s":"t","x":25.1,"y":0.94},{"p":"F","s":"t","x":26.8,"y":1.03},{"p":"F","s":"t","x":28.4,"y":1.14},{"p":"F","s":"t","x":30.1,"y":1.28},{"p":"F","s":"t","x":31.6,"y":1.39},{"p":"F","s":"t","x":33.1,"y":1.55},{"p":"F","s":"t","x":34.6,"y":1.65},{"p":"F","s":"t","x":35.7,"y":1.94},{"p":"F","s":"t","x":37.7,"y":2.88},{"p":"F","s":"t","x":39.8,"y":2.89},{"p":"F","s":"t","x":41.8,"y":3.61},{"p":"F","s":"t","x":43.3,"y":3.8},{"p":"F","s":"t","x":45.1,"y":3.96},{"p":"F","s":"t","x":46.2,"y":4.21},{"p":"F","s":"t","x":47.9,"y":4.32},{"p":"F","s":"t","x":49.6,"y":4.41},{"p":"F","s":"t","x":51.2,"y":4.52},{"p":"F","s":"t","x":52.9,"y":4.68},{"p":"F","s":"t","x":54.6,"y":4.52},{"p":"F","s":"t","x":55.3,"y":4.43},{"p":"F","s":"t","x":56.8,"y":3.9},{"p":"F","s":"t","x":58.4,"y":3.87},{"p":"F","s":"t","x":59.6,"y":3.52},{"p":"F","s":"t","x":61.2,"y":3.35},{"p":"F","s":"t","x":62.9,"y":3.08},{"p":"F","s":"t","x":64.6,"y":2.79},{"p":"F","s":"t","x":65.7,"y":2.5},{"p":"F","s":"t","x":66.8,"y":2.27},{"p":"F","s":"t","x":68.4,"y":1.85},{"p":"F","s":"t","x":70.1,"y":1.68},{"p":"F","s":"t","x":71.8,"y":1.5},{"p":"F","s":"t","x":73.4,"y":1.44},{"p":"F","s":"t","x":74.6,"y":1.19},{"p":"F","s":"t","x":76.2,"y":1.08}
]},
"columns":2,
"align":"each",
"bounds":"flush",
"spacing":{"row":28,"column":0},
"concat":[
{"width":259,"height":377,"data":{"name":"pts"},"transform":[{"filter":"datum.p==='A'"}],
 "layer":[
  {"mark":"line","encoding":{
   "x":{"field":"x","type":"quantitative","scale":{"domain":[0,86.33],"nice":false,"zero":false},"axis":{"orient":"bottom","values":[6,30,47.5,65],"labels":false,"tickSize":-6,"title":null}},
   "y":{"field":"y","type":"quantitative","scale":{"domain":[0,6.7],"nice":false},"axis":{"orient":"left","values":[0,2,4,6],"tickSize":7,"labelPadding":6,"title":"Gal\u00a0\u00a0content,\u00a0\u00a0\u00a0%","titleX":-57,"titleY":212,"titleAngle":-90,"titleBaseline":"middle","titleAlign":"center"}},
   "detail":{"field":"s"}}},
  {"mark":"point","transform":[{"filter":"datum.y>0"}],"encoding":{
   "x":{"field":"x","type":"quantitative","axis":{"orient":"top","values":[6,30,47.5,65],"labels":false,"tickSize":-6,"title":null}},
   "y":{"field":"y","type":"quantitative","axis":{"orient":"right","values":[0,2,4,6],"labels":false,"tickSize":-6,"title":null}},
   "shape":{"field":"s","type":"nominal","scale":{"domain":["f","o","t"],"range":["circle","circle","triangle-up"]},"legend":null},
   "size":{"field":"s","type":"nominal","scale":{"domain":["f","o","t"],"range":[55,55,75]},"legend":null},
   "fill":{"field":"s","type":"nominal","scale":{"domain":["f","o","t"],"range":["black","white","white"]},"legend":null}}},
  {"data":{"name":"letters"},"transform":[{"filter":"datum.p==='A'"}],"mark":"text","encoding":{"x":{"field":"x","type":"quantitative","axis":null},"y":{"field":"y","type":"quantitative","axis":null},"text":{"field":"p"}}}
 ],
 "resolve":{"axis":{"x":"independent","y":"independent"}}},
{"width":251,"height":377,"data":{"name":"pts"},"transform":[{"filter":"datum.p==='B'"}],
 "layer":[
  {"mark":"line","encoding":{
   "x":{"field":"x","type":"quantitative","scale":{"domain":[0,83.67],"nice":false,"zero":false},"axis":{"orient":"bottom","values":[6,30,47.5,65],"labels":false,"tickSize":-6,"title":null}},
   "y":{"field":"y","type":"quantitative","scale":{"domain":[0,6.7],"nice":false},"axis":{"orient":"left","values":[0,2,4,6],"labels":false,"tickSize":-6,"title":null}},
   "detail":{"field":"s"}}},
  {"mark":"point","transform":[{"filter":"datum.y>0"}],"encoding":{
   "x":{"field":"x","type":"quantitative","axis":{"orient":"top","values":[6,30,47.5,65],"labels":false,"tickSize":-6,"title":null}},
   "y":{"field":"y","type":"quantitative","axis":{"orient":"right","values":[0,2,4,6],"labels":false,"tickSize":-6,"title":null}},
   "shape":{"field":"s","type":"nominal","scale":{"domain":["f","o","t"],"range":["circle","circle","triangle-up"]},"legend":null},
   "size":{"field":"s","type":"nominal","scale":{"domain":["f","o","t"],"range":[55,55,75]},"legend":null},
   "fill":{"field":"s","type":"nominal","scale":{"domain":["f","o","t"],"range":["black","white","white"]},"legend":null}}},
  {"data":{"name":"letters"},"transform":[{"filter":"datum.p==='B'"}],"mark":"text","encoding":{"x":{"field":"x","type":"quantitative","axis":null},"y":{"field":"y","type":"quantitative","axis":null},"text":{"field":"p"}}}
 ],
 "resolve":{"axis":{"x":"independent","y":"independent"}}},
{"width":259,"height":420,"data":{"name":"pts"},"transform":[{"filter":"datum.p==='C'"}],
 "layer":[
  {"mark":"line","encoding":{
   "x":{"field":"x","type":"quantitative","scale":{"domain":[0,86.33],"nice":false,"zero":false},"axis":{"orient":"bottom","values":[6,30,47.5,65],"labels":false,"tickSize":-6,"title":null}},
   "y":{"field":"y","type":"quantitative","scale":{"domain":[0,11.25],"nice":false},"axis":{"orient":"left","values":[0,5,10],"tickSize":7,"labelPadding":6,"title":"Xyl\u00a0\u00a0\u00a0content,\u00a0\u00a0\u00a0\u00a0%","titleX":-57,"titleY":222,"titleAngle":-90,"titleBaseline":"middle","titleAlign":"center"}},
   "detail":{"field":"s"}}},
  {"mark":"point","transform":[{"filter":"datum.y>0"}],"encoding":{
   "x":{"field":"x","type":"quantitative","axis":{"orient":"top","values":[6,30,47.5,65],"labels":false,"tickSize":-6,"title":null}},
   "y":{"field":"y","type":"quantitative","axis":{"orient":"right","values":[0,5,10],"labels":false,"tickSize":-6,"title":null}},
   "shape":{"field":"s","type":"nominal","scale":{"domain":["f","o","t"],"range":["circle","circle","triangle-up"]},"legend":null},
   "size":{"field":"s","type":"nominal","scale":{"domain":["f","o","t"],"range":[55,55,75]},"legend":null},
   "fill":{"field":"s","type":"nominal","scale":{"domain":["f","o","t"],"range":["black","white","white"]},"legend":null}}},
  {"data":{"name":"letters"},"transform":[{"filter":"datum.p==='C'"}],"mark":"text","encoding":{"x":{"field":"x","type":"quantitative","axis":null},"y":{"field":"y","type":"quantitative","axis":null},"text":{"field":"p"}}}
 ],
 "resolve":{"axis":{"x":"independent","y":"independent"}}},
{"width":251,"height":420,"data":{"name":"pts"},"transform":[{"filter":"datum.p==='D'"}],
 "layer":[
  {"mark":"line","encoding":{
   "x":{"field":"x","type":"quantitative","scale":{"domain":[0,83.67],"nice":false,"zero":false},"axis":{"orient":"bottom","values":[6,30,47.5,65],"labels":false,"tickSize":-6,"title":null}},
   "y":{"field":"y","type":"quantitative","scale":{"domain":[0,11.25],"nice":false},"axis":{"orient":"left","values":[0,5,10],"labels":false,"tickSize":-6,"title":null}},
   "detail":{"field":"s"}}},
  {"mark":"point","transform":[{"filter":"datum.y>0"}],"encoding":{
   "x":{"field":"x","type":"quantitative","axis":{"orient":"top","values":[6,30,47.5,65],"labels":false,"tickSize":-6,"title":null}},
   "y":{"field":"y","type":"quantitative","axis":{"orient":"right","values":[0,5,10],"labels":false,"tickSize":-6,"title":null}},
   "shape":{"field":"s","type":"nominal","scale":{"domain":["f","o","t"],"range":["circle","circle","triangle-up"]},"legend":null},
   "size":{"field":"s","type":"nominal","scale":{"domain":["f","o","t"],"range":[55,55,75]},"legend":null},
   "fill":{"field":"s","type":"nominal","scale":{"domain":["f","o","t"],"range":["black","white","white"]},"legend":null}}},
  {"data":{"name":"letters"},"transform":[{"filter":"datum.p==='D'"}],"mark":"text","encoding":{"x":{"field":"x","type":"quantitative","axis":null},"y":{"field":"y","type":"quantitative","axis":null},"text":{"field":"p"}}}
 ],
 "resolve":{"axis":{"x":"independent","y":"independent"}}},
{"width":259,"height":375,"data":{"name":"pts"},"transform":[{"filter":"datum.p==='E'"}],
 "layer":[
  {"mark":"line","encoding":{
   "x":{"field":"x","type":"quantitative","scale":{"domain":[0,86.33],"nice":false,"zero":false},"axis":{"orient":"bottom","values":[6,30,47.5,65],"labelExpr":"datum.value==6?'Vo':datum.value==30?'50':datum.value<50?'7':'1'","tickSize":-6,"labelPadding":26,"title":"Molecular","titleX":142,"titleY":60,"titleBaseline":"middle","titleAlign":"center"}},
   "y":{"field":"y","type":"quantitative","scale":{"domain":[0,5],"nice":false},"axis":{"orient":"left","values":[0,1,2,3,4],"labelExpr":"datum.value%2==0?datum.label:''","tickSize":7,"labelPadding":6,"title":"Glc\u00a0\u00a0content,\u00a0\u00a0\u00a0%","titleX":-57,"titleY":200,"titleAngle":-90,"titleBaseline":"middle","titleAlign":"center"}},
   "detail":{"field":"s"}}},
  {"mark":"point","transform":[{"filter":"datum.y>0"}],"encoding":{
   "x":{"field":"x","type":"quantitative","axis":{"orient":"top","values":[6,30,47.5,65],"labels":false,"tickSize":-6,"title":null}},
   "y":{"field":"y","type":"quantitative","axis":{"orient":"right","values":[0,1,2,3,4],"labels":false,"tickSize":-6,"title":null}},
   "shape":{"field":"s","type":"nominal","scale":{"domain":["f","o","t"],"range":["circle","circle","triangle-up"]},"legend":null},
   "size":{"field":"s","type":"nominal","scale":{"domain":["f","o","t"],"range":[55,55,75]},"legend":null},
   "fill":{"field":"s","type":"nominal","scale":{"domain":["f","o","t"],"range":["black","white","white"]},"legend":null}}},
  {"data":{"name":"letters"},"transform":[{"filter":"datum.p==='E'"}],"mark":"text","encoding":{"x":{"field":"x","type":"quantitative","axis":null},"y":{"field":"y","type":"quantitative","axis":null},"text":{"field":"p"}}}
 ],
 "resolve":{"axis":{"x":"independent","y":"independent"}}},
{"width":251,"height":375,"data":{"name":"pts"},"transform":[{"filter":"datum.p==='F'"}],
 "layer":[
  {"mark":"line","encoding":{
   "x":{"field":"x","type":"quantitative","scale":{"domain":[0,83.67],"nice":false,"zero":false},"axis":{"orient":"bottom","values":[6,30,47.5,65],"labelExpr":"datum.value==6?'Vo':datum.value==30?'50':datum.value<50?'7':'1'","tickSize":-6,"labelPadding":26,"title":"weight\u00a0\u00a0(\u00a010⁴\u00a0)","titleX":57,"titleY":60,"titleBaseline":"middle","titleAlign":"center"}},
   "y":{"field":"y","type":"quantitative","scale":{"domain":[0,5],"nice":false},"axis":{"orient":"left","values":[0,1,2,3,4],"labels":false,"tickSize":-6,"title":null}},
   "detail":{"field":"s"}}},
  {"mark":"point","transform":[{"filter":"datum.y>0"}],"encoding":{
   "x":{"field":"x","type":"quantitative","axis":{"orient":"top","values":[6,30,47.5,65],"labels":false,"tickSize":-6,"title":null}},
   "y":{"field":"y","type":"quantitative","axis":{"orient":"right","values":[0,1,2,3,4],"labels":false,"tickSize":-6,"title":null}},
   "shape":{"field":"s","type":"nominal","scale":{"domain":["f","o","t"],"range":["circle","circle","triangle-up"]},"legend":null},
   "size":{"field":"s","type":"nominal","scale":{"domain":["f","o","t"],"range":[55,55,75]},"legend":null},
   "fill":{"field":"s","type":"nominal","scale":{"domain":["f","o","t"],"range":["black","white","white"]},"legend":null}}},
  {"data":{"name":"letters"},"transform":[{"filter":"datum.p==='F'"}],"mark":"text","encoding":{"x":{"field":"x","type":"quantitative","axis":null},"y":{"field":"y","type":"quantitative","axis":null},"text":{"field":"p"}}}
 ],
 "resolve":{"axis":{"x":"independent","y":"independent"}}}
]
}
